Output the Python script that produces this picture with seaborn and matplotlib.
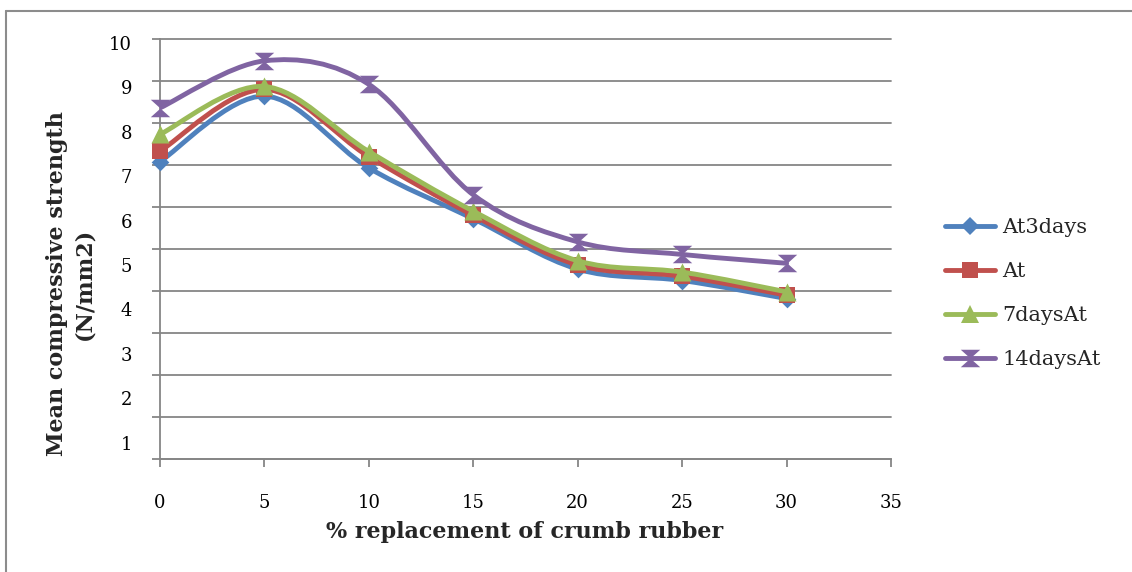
import numpy as np
import pandas as pd
import matplotlib
matplotlib.use("Agg")
import matplotlib.pyplot as plt
from matplotlib.path import Path
from matplotlib.patches import PathPatch
from matplotlib.lines import Line2D
import seaborn as sns

# ---- data ----
replacement = [0, 5, 10, 15, 20, 25, 30]
at3days = [7.08, 8.64, 6.93, 5.72, 4.52, 4.25, 3.82]
at = [7.33, 8.80, 7.20, 5.80, 4.62, 4.35, 3.90]
days7 = [7.73, 8.87, 7.32, 5.90, 4.72, 4.45, 3.98]
days14 = [8.36, 9.48, 8.92, 6.29, 5.17, 4.87, 4.66]
series_names = ["At3days", "At", "7daysAt", "14daysAt"]
x_ticks = [0, 5, 10, 15, 20, 25, 30, 35]
y_ticks = [0, 1, 2, 3, 4, 5, 6, 7, 8, 9, 10]
y_ticklabels = ["1", "2", "3", "4", "5", "6", "7", "8", "9", "10"]
x_title = "% replacement of crumb rubber"
y_title = "Mean compressive strength\n(N/mm2)"

df = pd.DataFrame({
    "replacement": replacement * 4,
    "strength": at3days + at + days7 + days14,
    "series": sum([[n] * len(replacement) for n in series_names], []),
})

sns.set_theme(style="white")
plt.rcParams["font.family"] = ["DejaVu Serif", "Liberation Serif"]

W, H = 1132, 572
fig = plt.figure(figsize=(W / 100, H / 100), dpi=100)
L, R, T, B = 160, 891, 39, 459
ax = fig.add_axes([L / W, 1 - B / H, (R - L) / W, (B - T) / H])

colors = {"At3days": "#4F81BD", "At": "#C0504D", "7daysAt": "#9BBB59", "14daysAt": "#8064A2"}
hourglass = Path([(-1, 0.9), (1, 0.9), (0, 0), (1, -0.9), (-1, -0.9), (0, 0), (-1, 0.9)],
                 [Path.MOVETO, Path.LINETO, Path.LINETO, Path.LINETO, Path.LINETO, Path.LINETO, Path.CLOSEPOLY])
markers = {"At3days": "D", "At": "s", "7daysAt": "^", "14daysAt": hourglass}
msizes = {"At3days": 9, "At": 11, "7daysAt": 13, "14daysAt": 14}


def smooth_path(xs, ys):
    pts = np.column_stack([xs, ys]).astype(float)
    n = len(pts)
    verts = [pts[0]]
    codes = [Path.MOVETO]
    for i in range(n - 1):
        p0 = pts[i - 1] if i > 0 else pts[i]
        p1 = pts[i]
        p2 = pts[i + 1]
        p3 = pts[i + 2] if i + 2 < n else pts[i + 1]
        c1 = p1 + (p2 - p0) / 6.0
        c2 = p2 - (p3 - p1) / 6.0
        verts += [c1, c2, p2]
        codes += [Path.CURVE4] * 3
    return Path(verts, codes)


for k, name in enumerate(series_names):
    sub = df[df["series"] == name]
    c = colors[name]
    patch = PathPatch(smooth_path(sub["replacement"].values, sub["strength"].values),
                      facecolor="none", edgecolor=c, lw=3.5, zorder=3 + 2 * k,
                      capstyle="round", joinstyle="round")
    ax.add_patch(patch)
    sns.scatterplot(data=sub, x="replacement", y="strength", ax=ax, marker=markers[name],
                    s=msizes[name] ** 2, color=c, edgecolor=c, linewidth=0,
                    zorder=4 + 2 * k, legend=False, clip_on=False)

ax.set_xlim(0, 35)
ax.set_ylim(0, 10)
grid_c = "#868686"
ax.set_yticks(y_ticks)
ax.set_yticklabels([])
ax.yaxis.grid(True, color=grid_c, lw=1.3)
ax.xaxis.grid(False)
for gl in ax.yaxis.get_gridlines():
    gl.set_clip_on(False)
# label positions (visually offset in the reference)
lab_pos = [(B - (43 + (10 - v) * 44.4)) / ((B - T) / 10) for v in range(1, 11)]
ax.set_yticks(lab_pos, minor=True)
ax.set_yticklabels(y_ticklabels, minor=True)
ax.tick_params(axis="y", which="minor", length=0, pad=20, labelsize=13, labelcolor="black")
ax.tick_params(axis="y", which="major", direction="out", length=6, width=1.3, color=grid_c, left=True)
ax.set_xticks(x_ticks)
ax.set_xticklabels([str(v) for v in x_ticks])
ax.tick_params(axis="x", direction="out", length=6, width=1.3, color=grid_c, bottom=True,
               pad=19, labelsize=13, labelcolor="black")
for s in ["top", "right"]:
    ax.spines[s].set_visible(False)
for s in ["left", "bottom"]:
    ax.spines[s].set_color(grid_c)
    ax.spines[s].set_linewidth(1.3)
ax.set_xlabel("")
ax.set_ylabel("")

fig.text(525 / W, 1 - 532 / H, x_title, ha="center", va="center", fontsize=16, fontweight="bold")
fig.text(71 / W, 1 - 284 / H, y_title, ha="center", va="center", rotation=90, fontsize=16,
         fontweight="bold", linespacing=1.3, multialignment="center")

handles = [Line2D([0], [0], color=colors[n], lw=3.5, marker=markers[n], markersize=msizes[n],
                  markeredgewidth=0) for n in series_names]
fig.legend(handles, series_names, loc="upper left", bbox_to_anchor=(945 / W, 1 - 218 / H),
           frameon=False, fontsize=15, handlelength=2.4, handletextpad=0.35, labelspacing=1.2,
           borderpad=0, borderaxespad=0)

fig.add_artist(Line2D([6 / W, 1], [1 - 11 / H, 1 - 11 / H], transform=fig.transFigure, color="#8c8c8c", lw=1.5))
fig.add_artist(Line2D([6 / W, 6 / W], [0, 1 - 11 / H], transform=fig.transFigure, color="#8c8c8c", lw=1.5))

fig.savefig("out.png", dpi=100)
